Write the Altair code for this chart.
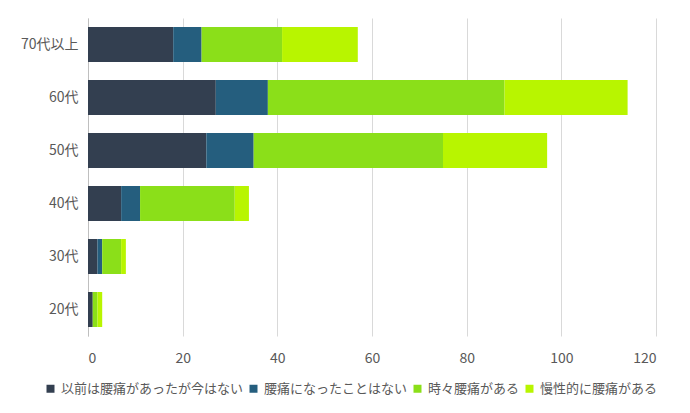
import altair as alt
import pandas as pd

ages = ["70代以上", "60代", "50代", "40代", "30代", "20代"]
series = ["以前は腰痛があったが今はない", "腰痛になったことはない", "時々腰痛がある", "慢性的に腰痛がある"]
colors = ["#333F50", "#255E7E", "#8BDF19", "#B8F500"]
v_past = [18, 27, 25, 7, 2, 1]
v_never = [6, 11, 10, 4, 1, 0]
v_some = [17, 50, 40, 20, 4, 1]
v_chronic = [16, 26, 22, 3, 1, 1]
x_ticks = [0, 20, 40, 60, 80, 100, 120]

rows = []
for i, a in enumerate(ages):
    for j, (s, vals) in enumerate(zip(series, [v_past, v_never, v_some, v_chronic])):
        rows.append({"age": a, "series": s, "value": vals[i], "ord": j})
df = pd.DataFrame(rows)

font = "Noto Sans CJK JP"

chart = alt.Chart(df).mark_bar().encode(
    y=alt.Y("age:N", sort=ages, title=None,
            scale=alt.Scale(paddingInner=0.34, paddingOuter=0.17),
            axis=alt.Axis(labelFontSize=14, labelColor="#595959", labelFont=font,
                          ticks=False, domainColor="#BFBFBF", labelPadding=10)),
    x=alt.X("value:Q", stack="zero", title=None,
            scale=alt.Scale(domain=[0, 120], nice=False),
            axis=alt.Axis(values=x_ticks, labelFontSize=14, labelColor="#595959", labelFont=font,
                          ticks=False, domain=False, gridColor="#D9D9D9", labelPadding=15)),
    color=alt.Color("series:N", sort=series,
                    scale=alt.Scale(domain=series, range=colors),
                    legend=alt.Legend(title=None, orient="none", direction="horizontal",
                                      legendX=-44, legendY=364, labelFontSize=13,
                                      labelColor="#595959", labelFont=font,
                                      symbolType="square", symbolSize=64, labelOffset=4,
                                      symbolStrokeWidth=0, columnPadding=3, labelLimit=300)),
    order=alt.Order("ord:Q"),
).properties(
    width=568, height=318,
    autosize=alt.AutoSizeParams(type="none"),
    padding={"left": 80, "top": 10, "right": 26, "bottom": 77},
).configure_view(stroke=None)

chart.save("out.html", embed_options={"renderer": "svg", "actions": False})
